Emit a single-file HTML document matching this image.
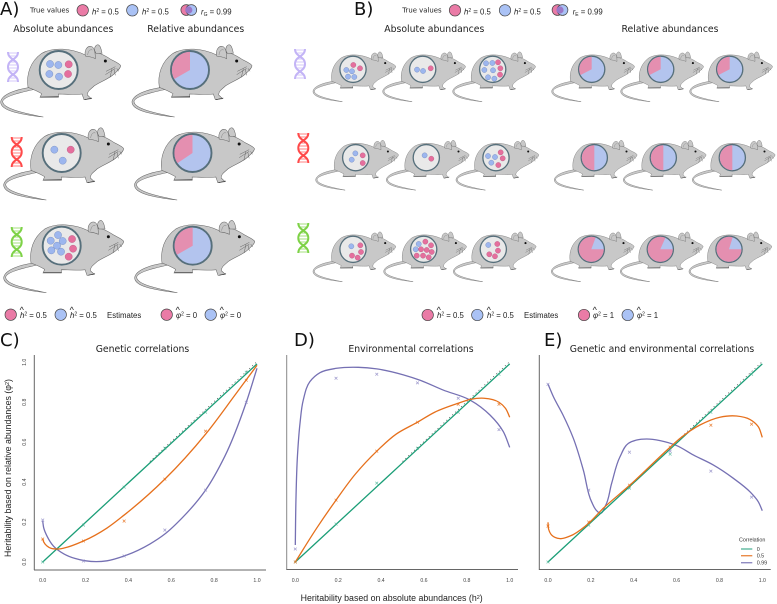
<!DOCTYPE html>
<html lang="en">
<head>
<meta charset="utf-8">
<title>Heritability figure</title>
<style>
html,body{margin:0;padding:0;background:#fff;width:777px;height:604px;overflow:hidden}
svg{display:block}
.hd{font:9.3px "DejaVu Sans",sans-serif;fill:#222;text-anchor:middle}
.pl{font:18px "DejaVu Sans",sans-serif;fill:#111}
.lg{font:7.8px "Liberation Sans",sans-serif;fill:#222}
.lgd{font:6.9px "DejaVu Sans",sans-serif;fill:#222}
.hat{font:9px "Liberation Sans",sans-serif;fill:#222}
.tick{font:5.2px "Liberation Sans",sans-serif;fill:#444}
.ax{font:8.8px "Liberation Sans",sans-serif;fill:#222}
.title{font:9.3px "DejaVu Sans",sans-serif;fill:#222;text-anchor:middle}
.key{font:5.4px "Liberation Sans",sans-serif;fill:#333}
.swatch{stroke:#444;stroke-width:.7}
</style>
</head>
<body>
<svg id="fig" xmlns="http://www.w3.org/2000/svg" width="777" height="604" viewBox="0 0 777 604">
<defs>
<g id="mouse-shape">
  <path d="M90 262C50 268 6 282 2 305C0 332 60 343 130 351C70 339 9 326 8 305C8 290 60 277 104 268Z" fill="#c8c8c8" stroke="#666" stroke-width="1.6"/>
  <path d="M84 262C78 225 90 185 125 160C160 140 215 145 256 165L285 158C300 158 320 170 332 178C345 185 358 190 362 197C362 205 352 212 342 222C325 238 300 245 282 258C272 268 262 272 262 285L274 296L252 299L246 282C235 285 190 282 175 282L175 292L120 292L125 281C115 275 100 268 84 262Z" fill="#c8c8c8" stroke="#666" stroke-width="1.6"/>
  <path d="M256 168C252 150 262 138 272 139C282 140 286 155 286 176C275 170 264 170 256 168Z" fill="#c8c8c8" stroke="#666" stroke-width="1.6"/>
  <path d="M263 165C264 153 270 147 277 150" fill="none" stroke="#777" stroke-width="1.3"/>
  <path d="M284 152C282 140 290 132 296 135C302 139 304 148 306 160L288 160Z" fill="#c8c8c8" stroke="#666" stroke-width="1.6"/>
  <circle cx="316" cy="183" r="4.5" fill="#111"/>
  <path d="M346 200L318 214M346 205L316 224M336 206L330 232M342 208L346 226M350 205L356 214" fill="none" stroke="#555" stroke-width="1.3"/>
  <path d="M254 299L276 294M122 291L176 290" fill="none" stroke="#333" stroke-width="1.8"/>
</g>
<g id="dna-shape">
  <path d="M0 0C0 8 10 7 10 15C10 23 0 22 0 30" fill="none" stroke="currentColor" stroke-width="2"/>
  <path d="M10 0C10 8 0 7 0 15C0 23 10 22 10 30" fill="none" stroke="currentColor" stroke-width="2"/>
  <path d="M1 1H9M2 4H8M4 7H6M3 10H7M1 13H9M1 16H9M2 19H8M4 23H6M2 26H8M1 29H9" fill="none" stroke="currentColor" stroke-width="1" opacity=".7"/>
</g>
</defs>

<text class="pl" x="0" y="15">A)</text>
<text class="pl" x="354" y="15">B)</text>
<text class="pl" x="0" y="346">C)</text>
<text class="pl" x="294" y="346">D)</text>
<text class="pl" x="544" y="346">E)</text>

<text class="hd" x="63.3" y="32">Absolute abundances</text>
<text class="hd" x="195.7" y="32">Relative abundances</text>
<text class="hd" x="434.3" y="32">Absolute abundances</text>
<text class="hd" x="670" y="32">Relative abundances</text>

<g>
  <text class="lgd" x="30" y="12.5">True values</text>
  <circle class="swatch" cx="82.7" cy="10.3" r="5.7" fill="#ea7ba6"/>
  <text class="lg" x="92" y="14.5"><tspan font-style="italic">h</tspan><tspan dy="-2.5" font-size="5">2</tspan><tspan dy="2.5"> = 0.5</tspan></text>
  <circle class="swatch" cx="132.3" cy="10.3" r="5.7" fill="#aac2f5"/>
  <text class="lg" x="142" y="14.5"><tspan font-style="italic">h</tspan><tspan dy="-2.5" font-size="5">2</tspan><tspan dy="2.5"> = 0.5</tspan></text>
  <circle class="swatch" cx="186.3" cy="10" r="5.4" fill="#ea7ba6"/>
  <circle class="swatch" cx="191.3" cy="10" r="5.4" fill="#aac2f5"/>
  <circle cx="188.8" cy="10" r="3.6" fill="#9b78c8"/>
  <text class="lg" x="201" y="14.5"><tspan font-style="italic">r</tspan><tspan dy="1.5" font-size="5">G</tspan><tspan dy="-1.5"> = 0.99</tspan></text>
</g>
<g>
  <text class="lgd" x="402.3" y="12.5">True values</text>
  <circle class="swatch" cx="455" cy="10.3" r="5.7" fill="#ea7ba6"/>
  <text class="lg" x="464" y="14.5"><tspan font-style="italic">h</tspan><tspan dy="-2.5" font-size="5">2</tspan><tspan dy="2.5"> = 0.5</tspan></text>
  <circle class="swatch" cx="505" cy="10.3" r="5.7" fill="#aac2f5"/>
  <text class="lg" x="514" y="14.5"><tspan font-style="italic">h</tspan><tspan dy="-2.5" font-size="5">2</tspan><tspan dy="2.5"> = 0.5</tspan></text>
  <circle class="swatch" cx="557.5" cy="10" r="5.4" fill="#ea7ba6"/>
  <circle class="swatch" cx="562.5" cy="10" r="5.4" fill="#aac2f5"/>
  <circle cx="560" cy="10" r="3.6" fill="#9b78c8"/>
  <text class="lg" x="572.7" y="14.5"><tspan font-style="italic">r</tspan><tspan dy="1.5" font-size="5">E</tspan><tspan dy="-1.5"> = 0.99</tspan></text>
</g>

<g>
  <circle class="swatch" cx="10.7" cy="314.7" r="5.7" fill="#ea7ba6"/>
  <text class="hat" x="19.6" y="313">^</text>
  <text class="lg" x="20" y="318"><tspan font-style="italic">h</tspan><tspan dy="-2.5" font-size="5">2</tspan><tspan dy="2.5"> = 0.5</tspan></text>
  <circle class="swatch" cx="60.7" cy="314.7" r="5.7" fill="#aac2f5"/>
  <text class="hat" x="69.6" y="313">^</text>
  <text class="lg" x="70" y="318"><tspan font-style="italic">h</tspan><tspan dy="-2.5" font-size="5">2</tspan><tspan dy="2.5"> = 0.5</tspan></text>
  <text class="lg" x="107" y="318">Estimates</text>
  <circle class="swatch" cx="166.7" cy="314.7" r="5.7" fill="#ea7ba6"/>
  <text class="hat" x="175.6" y="313">^</text>
  <text class="lg" x="176" y="318"><tspan font-style="italic">φ</tspan><tspan dy="-2.5" font-size="5">2</tspan><tspan dy="2.5"> = 0</tspan></text>
  <circle class="swatch" cx="210.7" cy="314.7" r="5.7" fill="#aac2f5"/>
  <text class="hat" x="219.6" y="313">^</text>
  <text class="lg" x="220" y="318"><tspan font-style="italic">φ</tspan><tspan dy="-2.5" font-size="5">2</tspan><tspan dy="2.5"> = 0</tspan></text>
</g>
<g>
  <circle class="swatch" cx="427.7" cy="315" r="5.7" fill="#ea7ba6"/>
  <text class="hat" x="436.6" y="313">^</text>
  <text class="lg" x="437" y="318"><tspan font-style="italic">h</tspan><tspan dy="-2.5" font-size="5">2</tspan><tspan dy="2.5"> = 0.5</tspan></text>
  <circle class="swatch" cx="477.3" cy="315" r="5.7" fill="#aac2f5"/>
  <text class="hat" x="486.6" y="313">^</text>
  <text class="lg" x="487" y="318"><tspan font-style="italic">h</tspan><tspan dy="-2.5" font-size="5">2</tspan><tspan dy="2.5"> = 0.5</tspan></text>
  <text class="lg" x="524" y="318">Estimates</text>
  <circle class="swatch" cx="584" cy="315" r="5.7" fill="#ea7ba6"/>
  <text class="hat" x="592.6" y="313">^</text>
  <text class="lg" x="593" y="318"><tspan font-style="italic">φ</tspan><tspan dy="-2.5" font-size="5">2</tspan><tspan dy="2.5"> = 1</tspan></text>
  <circle class="swatch" cx="627.7" cy="315" r="5.7" fill="#aac2f5"/>
  <text class="hat" x="636.6" y="313">^</text>
  <text class="lg" x="637" y="318"><tspan font-style="italic">φ</tspan><tspan dy="-2.5" font-size="5">2</tspan><tspan dy="2.5"> = 1</tspan></text>
</g>

<use href="#dna-shape" x="8" y="52" color="#c3b4f6"/>
<use href="#dna-shape" x="11.7" y="137" color="#ff4a4a"/>
<use href="#dna-shape" x="11.7" y="227" color="#7ed247"/>
<use href="#dna-shape" x="295" y="49" color="#c3b4f6"/>
<use href="#dna-shape" x="298.3" y="133" color="#ff4a4a"/>
<use href="#dna-shape" x="298.3" y="223" color="#7ed247"/>

<g id="mice"></g>

<g>
  <text class="title" x="142.5" y="352">Genetic correlations</text>
  <line x1="34.3" y1="355" x2="34.3" y2="570" stroke="#666" stroke-width="1"/>
  <line x1="34" y1="570" x2="266" y2="570" stroke="#666" stroke-width="1"/>
  <text class="ax" transform="translate(11,468) rotate(-90)" text-anchor="middle">Heritability based on relative abundances (φ<tspan dy="-2" font-size="5.5">2</tspan><tspan dy="2">)</tspan></text>
  <g id="plot-c"></g>
</g>
<g>
  <text class="title" x="411" y="352">Environmental correlations</text>
  <line x1="286.7" y1="355" x2="286.7" y2="570" stroke="#888" stroke-width="1"/>
  <line x1="286.5" y1="569.5" x2="518" y2="569.5" stroke="#666" stroke-width="1"/>
  <text class="ax" x="391.7" y="601" text-anchor="middle">Heritability based on absolute abundances (h<tspan dy="-2" font-size="5.5">2</tspan><tspan dy="2">)</tspan></text>
  <g id="plot-d"></g>
</g>
<g>
  <text class="title" x="662" y="352">Genetic and environmental correlations</text>
  <line x1="539.3" y1="355" x2="539.3" y2="570" stroke="#666" stroke-width="1"/>
  <line x1="539" y1="569.5" x2="770.7" y2="569.5" stroke="#666" stroke-width="1"/>
  <g id="plot-e"></g>
  <g>
    <text class="key" x="739" y="541.7">Correlation</text>
    <line x1="741" y1="549" x2="752.3" y2="549" stroke="#1b9e77" stroke-width="1.4" opacity=".7"/>
    <text class="key" x="756.7" y="551">0</text>
    <line x1="741" y1="555.7" x2="752.3" y2="555.7" stroke="#e6701c" stroke-width="1.4" opacity=".8"/>
    <text class="key" x="756.7" y="557.7">0.5</text>
    <line x1="741" y1="562.7" x2="752.3" y2="562.7" stroke="#7570b3" stroke-width="1.4" opacity=".8"/>
    <text class="key" x="756.7" y="564.7">0.99</text>
  </g>
</g>
</svg>

<script>
// ---------- chart data ----------
const tickValues = [0, 0.2, 0.4, 0.6, 0.8, 1];
const tickLabels = ['0.0', '0.2', '0.4', '0.6', '0.8', '1.0'];
const sampleH2 = [0, 0.19, 0.38, 0.57, 0.76, 0.95];
const zeroCurveX = [0, 1];
const zeroCurveY = [0, 0.992];

const cZeroMarks = [0, 0.185, 0.375, 0.57, 0.75, 0.95];
const cHalfMarks = [0.115, 0.105, 0.205, 0.415, 0.655, 0.91];
const cHighMarks = [0.21, 0.005, 0.03, 0.16, 0.36, 0.8];
const cHalfCurveX = [0, 0.005, 0.02, 0.04, 0.07, 0.1, 0.19, 0.3, 0.38, 0.57, 0.76, 0.9, 1];
const cHalfCurveY = [0.115, 0.1, 0.08, 0.068, 0.065, 0.07, 0.105, 0.17, 0.235, 0.415, 0.64, 0.84, 0.985];
const cHighCurveX = [0, 0.005, 0.02, 0.05, 0.1, 0.15, 0.2, 0.25, 0.3, 0.38, 0.5, 0.57, 0.65, 0.76, 0.85, 0.95, 1];
const cHighCurveY = [0.205, 0.17, 0.13, 0.08, 0.04, 0.018, 0.006, 0.002, 0.006, 0.03, 0.09, 0.14, 0.22, 0.36, 0.53, 0.8, 0.97];

const dZeroMarks = [0, 0.19, 0.395, 0.57, 0.75, 0.94];
const dHalfMarks = [0, 0.31, 0.555, 0.7, 0.79, 0.79];
const dHighMarks = [0.065, 0.92, 0.94, 0.897, 0.82, 0.663];
const dHalfCurveX = [0, 0.1, 0.19, 0.28, 0.38, 0.47, 0.57, 0.65, 0.76, 0.82, 0.88, 0.95, 0.98, 1];
const dHalfCurveY = [0, 0.17, 0.31, 0.44, 0.555, 0.64, 0.7, 0.75, 0.795, 0.815, 0.82, 0.8, 0.77, 0.725];
const dHighCurveX = [0, 0.003, 0.01, 0.022, 0.037, 0.068, 0.115, 0.193, 0.294, 0.38, 0.504, 0.582, 0.69, 0.815, 0.908, 0.97, 1];
const dHighCurveY = [0.085, 0.31, 0.53, 0.695, 0.81, 0.903, 0.948, 0.97, 0.975, 0.967, 0.937, 0.91, 0.861, 0.811, 0.736, 0.653, 0.574];

const eZeroMarks = [0, 0.185, 0.37, 0.54, 0.75, 0.94];
const eHalfMarks = [0.18, 0.2, 0.385, 0.575, 0.685, 0.69];
const eHighMarks = [0.89, 0.36, 0.55, 0.555, 0.455, 0.325];
const eHalfCurveX = [0, 0.003, 0.017, 0.056, 0.103, 0.18, 0.258, 0.383, 0.569, 0.616, 0.709, 0.802, 0.88, 0.942, 0.981, 1];
const eHalfCurveY = [0.199, 0.164, 0.135, 0.117, 0.13, 0.185, 0.269, 0.386, 0.574, 0.619, 0.686, 0.725, 0.731, 0.714, 0.678, 0.624];
const eHighCurveX = [0, 0.025, 0.07, 0.118, 0.165, 0.204, 0.227, 0.243, 0.266, 0.297, 0.336, 0.375, 0.414, 0.46, 0.523, 0.6, 0.678, 0.771, 0.865, 0.942, 0.981, 1];
const eHighCurveY = [0.891, 0.828, 0.736, 0.62, 0.46, 0.3, 0.257, 0.244, 0.277, 0.394, 0.527, 0.594, 0.611, 0.616, 0.608, 0.583, 0.536, 0.486, 0.419, 0.352, 0.302, 0.257];

// ---------- chart drawing ----------
const NS = 'http://www.w3.org/2000/svg';
const COLOR_ZERO = '#1b9e77', COLOR_HALF = '#e6701c', COLOR_HIGH = '#7570b3';

function yScale(v) { return 562 - 199.7 * v; }
function makeXScale(x0, x1) { return function (v) { return x0 + (x1 - x0) * v; }; }

function smoothPath(pts) {
  function tangent(i) {
    if (i === 0 || i === pts.length - 1) {
      const a = pts[i === 0 ? 0 : i - 1], b = pts[i === 0 ? 1 : i];
      const l = Math.hypot(b[0] - a[0], b[1] - a[1]) || 1;
      return [(b[0] - a[0]) / l, (b[1] - a[1]) / l];
    }
    const p = pts[i - 1], c = pts[i], n = pts[i + 1];
    const l1 = Math.hypot(c[0] - p[0], c[1] - p[1]) || 1, l2 = Math.hypot(n[0] - c[0], n[1] - c[1]) || 1;
    const tx = (c[0] - p[0]) / l1 * l2 + (n[0] - c[0]) / l2 * l1;
    const ty = (c[1] - p[1]) / l1 * l2 + (n[1] - c[1]) / l2 * l1;
    const l = Math.hypot(tx, ty) || 1;
    return [tx / l, ty / l];
  }
  let d = 'M' + pts[0][0].toFixed(2) + ' ' + pts[0][1].toFixed(2);
  for (let i = 0; i < pts.length - 1; i++) {
    const p = pts[i], q = pts[i + 1], s = Math.hypot(q[0] - p[0], q[1] - p[1]) / 3;
    const t1 = tangent(i), t2 = tangent(i + 1);
    d += 'C' + (p[0] + t1[0] * s).toFixed(2) + ' ' + (p[1] + t1[1] * s).toFixed(2) + ' ' +
      (q[0] - t2[0] * s).toFixed(2) + ' ' + (q[1] - t2[1] * s).toFixed(2) + ' ' +
      q[0].toFixed(2) + ' ' + q[1].toFixed(2);
  }
  return d;
}

function drawCurve(g, sx, xs, ys, color, name) {
  const el = document.createElementNS(NS, 'path');
  el.setAttribute('d', smoothPath(xs.map(function (x, i) { return [sx(x), yScale(ys[i])]; })));
  el.setAttribute('fill', 'none');
  el.setAttribute('stroke', color);
  el.setAttribute('stroke-width', '1.3');
  
  
  g.appendChild(el);
}

function drawMarks(g, sx, xs, ys, color, name) {
  ys.forEach(function (y, i) {
    const px = sx(xs[i]), py = yScale(y), r = 1.4;
    const el = document.createElementNS(NS, 'path');
    el.setAttribute('d', 'M' + (px - r) + ' ' + (py - r) + 'L' + (px + r) + ' ' + (py + r) + 'M' + (px - r) + ' ' + (py + r) + 'L' + (px + r) + ' ' + (py - r));
    el.setAttribute('stroke', color);
    el.setAttribute('stroke-width', '.7');
    el.setAttribute('opacity', '.85');
    el.setAttribute('fill', 'none');
    
    
    g.appendChild(el);
  });
}

function drawTicks(g, sx, withY) {
  tickValues.forEach(function (v, i) {
    const t = document.createElementNS(NS, 'text');
    t.setAttribute('class', 'tick');
    t.setAttribute('x', sx(v));
    t.setAttribute('y', 582);
    t.setAttribute('text-anchor', 'middle');
    t.textContent = tickLabels[i];
    
    
    g.appendChild(t);
    if (withY) {
      const u = document.createElementNS(NS, 'text');
      u.setAttribute('class', 'tick');
      u.setAttribute('transform', 'translate(26,' + yScale(v) + ') rotate(-90)');
      u.setAttribute('text-anchor', 'middle');
      u.textContent = tickLabels[i];
      
      
      g.appendChild(u);
    }
  });
}

function drawPanel(id, sx, withY, zeroM, halfM, highM, halfX, halfY, highX, highY) {
  const g = document.getElementById(id);
  drawTicks(g, sx, withY);
  const idLine = document.createElementNS(NS, 'line');
  idLine.setAttribute('x1', sx(0.5));
  idLine.setAttribute('y1', yScale(0.5) - 0.7);
  idLine.setAttribute('x2', sx(1));
  idLine.setAttribute('y2', yScale(1) - 0.7);
  idLine.setAttribute('stroke', '#222');
  idLine.setAttribute('stroke-width', '.6');
  idLine.setAttribute('stroke-dasharray', '1 3');
  
  
  g.appendChild(idLine);
  drawCurve(g, sx, highX, highY, COLOR_HIGH, 'curve-correlation-0-99');
  drawCurve(g, sx, zeroCurveX, zeroCurveY, COLOR_ZERO, 'curve-correlation-0');
  drawCurve(g, sx, halfX, halfY, COLOR_HALF, 'curve-correlation-0-5');
  drawMarks(g, sx, sampleH2, zeroM, '#4fb596', 'point-correlation-0');
  drawMarks(g, sx, sampleH2, halfM, COLOR_HALF, 'point-correlation-0-5');
  drawMarks(g, sx, sampleH2, highM, '#8f8bc6', 'point-correlation-0-99');
}

drawPanel('plot-c', makeXScale(42.7, 257), true, cZeroMarks, cHalfMarks, cHighMarks, cHalfCurveX, cHalfCurveY, cHighCurveX, cHighCurveY);
drawPanel('plot-d', makeXScale(295.3, 509.7), false, dZeroMarks, dHalfMarks, dHighMarks, dHalfCurveX, dHalfCurveY, dHighCurveX, dHighCurveY);
drawPanel('plot-e', makeXScale(548, 762.3), false, eZeroMarks, eHalfMarks, eHighMarks, eHalfCurveX, eHalfCurveY, eHighCurveX, eHighCurveY);

// ---------- mouse illustrations ----------
const micePanel = document.getElementById('mice');
const blueDot = '#9db6ee', pinkDot = '#e56f9d';

function addMouse(cx, cy, s) {
  const g = document.createElementNS(NS, 'g');
  
  
  const u = document.createElementNS(NS, 'use');
  u.setAttribute('href', '#mouse-shape');
  u.setAttribute('transform', 'translate(' + (cx - 58.67 * s) + ',' + (cy - 70 * s) + ') scale(' + (s / 3) + ')');
  g.appendChild(u);
  micePanel.appendChild(g);
  return g;
}

function addRing(g, cx, cy, s, fill) {
  const c = document.createElementNS(NS, 'circle');
  c.setAttribute('cx', cx);
  c.setAttribute('cy', cy);
  c.setAttribute('r', 19 * s);
  c.setAttribute('fill', fill);
  c.setAttribute('stroke', '#566f7b');
  c.setAttribute('stroke-width', 1.9 * s);
  
  
  g.appendChild(c);
}

function absMouse(cx, cy, s, blue, pink) {
  const g = addMouse(cx, cy, s);
  addRing(g, cx, cy, s, '#e9e9e9');
  const r = s === 1 ? 3.6 : 2.6;
  [[blue, blueDot, '#6d86bd'], [pink, pinkDot, '#b85580']].forEach(function (set) {
    set[0].forEach(function (d) {
      const c = document.createElementNS(NS, 'circle');
      c.setAttribute('cx', cx + d[0] / 3);
      c.setAttribute('cy', cy + d[1] / 3);
      c.setAttribute('r', r);
      c.setAttribute('fill', set[1]);
      c.setAttribute('stroke', set[2]);
      c.setAttribute('stroke-width', '.4');
      
      
      g.appendChild(c);
    });
  });
}

function relMouse(cx, cy, s, from, to) {
  const g = addMouse(cx, cy, s);
  addRing(g, cx, cy, s, '#b3c4ee');
  const R = 18.1 * s;
  const a = (from - 90) * Math.PI / 180, b = (to - 90) * Math.PI / 180;
  const p = document.createElementNS(NS, 'path');
  p.setAttribute('d', 'M' + cx + ' ' + cy + 'L' + (cx + R * Math.cos(a)) + ' ' + (cy + R * Math.sin(a)) +
    'A' + R + ' ' + R + ' 0 ' + ((to - from) > 180 ? 1 : 0) + ' 1 ' + (cx + R * Math.cos(b)) + ' ' + (cy + R * Math.sin(b)) + 'Z');
  p.setAttribute('fill', '#e48fb0');
  
  
  g.appendChild(p);
}

// panel A
absMouse(58.7, 70, 1, [[-26,-18],[-1,-15],[-28,12],[1,20]], [[30,-17],[28,12]]);
absMouse(61.7, 153, 1, [[-22,-10],[3,23]], [[27,-10]]);
absMouse(61.7, 245.7, 1, [[-11,-32],[-33,-15],[3,-14],[-14,0],[-31,14],[-2,18]], [[31,-20],[34,9],[21,33]]);
relMouse(190, 70, 1, 240, 360);
relMouse(192.5, 153, 1, 236, 360);
relMouse(192.7, 245.7, 1, 240, 360);

// panel B absolute
absMouse(353, 69.3, 0.69, [[-20,2],[-3,6],[-15,22],[4,23]], [[1,-13],[21,-3]]);
absMouse(422.7, 69.3, 0.69, [[-17,1],[1,5]], [[24,-3]]);
absMouse(492.7, 69.3, 0.69, [[-20,-18],[-1,-19],[-25,2],[1,3],[-14,24],[5,28]], [[16,-21],[23,-3],[22,16]]);
absMouse(355.7, 157.7, 0.69, [[-1,-13],[-12,6]], [[21,-7],[21,16]]);
absMouse(426.3, 157.7, 0.69, [[-5,-7]], [[15,3]]);
absMouse(496, 157.7, 0.69, [[-24,-5],[-3,-2],[-14,15]], [[14,-16],[20,2],[7,22]]);
absMouse(353, 249.3, 0.69, [[-5,-9]], [[22,-12],[24,8],[-3,19],[14,25]]);
absMouse(423.7, 249.3, 0.69, [[-15,-16],[-24,0]], [[5,-23],[22,-12],[-8,0],[9,2],[24,8],[-21,19],[-2,19],[15,24]]);
absMouse(493.3, 249.3, 0.69, [[-15,-13]], [[12,-16],[14,4],[-12,15],[5,21]]);

// panel B relative
relMouse(591.7, 69.3, 0.69, 243, 360);
relMouse(660.7, 69.3, 0.69, 243, 360);
relMouse(729.7, 69.3, 0.69, 243, 360);
relMouse(594.3, 157.7, 0.69, 180, 360);
relMouse(663.3, 157.7, 0.69, 180, 360);
relMouse(732.3, 157.7, 0.69, 180, 360);
relMouse(591.3, 249.3, 0.69, 90, 380);
relMouse(660.3, 249.3, 0.69, 90, 384);
relMouse(729, 249.3, 0.69, 90, 377);
</script>
</body>
</html>
